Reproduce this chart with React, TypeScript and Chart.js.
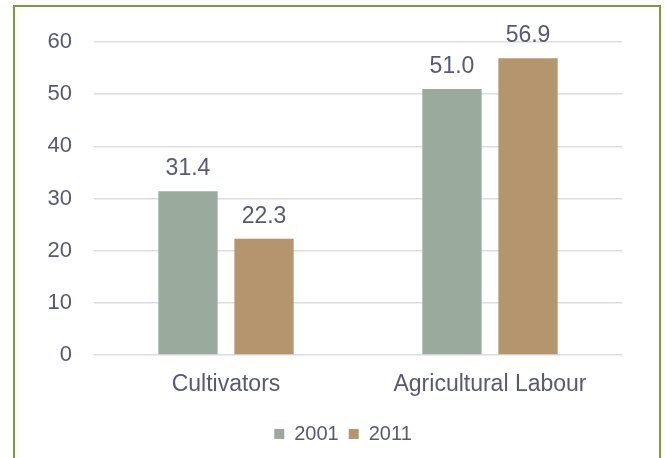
import React, { useEffect, useRef } from "react";
import { Chart, registerables } from "chart.js";

Chart.register(...registerables);

const categories = ["Cultivators", "Agricultural Labour"];
const series2001 = [31.4, 51.0];
const series2011 = [22.3, 56.9];
const seriesNames = ["2001", "2011"];
const yTicks = [0, 10, 20, 30, 40, 50, 60];

const TEXT = "#595975";
const FONT = "'Liberation Sans', Arial, sans-serif";

const valueLabels = {
  id: "valueLabels",
  afterDatasetsDraw(chart: any) {
    const ctx = chart.ctx;
    ctx.save();
    ctx.fillStyle = TEXT;
    ctx.font = `23px ${FONT}`;
    ctx.textAlign = "center";
    ctx.textBaseline = "alphabetic";
    chart.data.datasets.forEach((ds: any, i: number) => {
      const meta = chart.getDatasetMeta(i);
      meta.data.forEach((bar: any, j: number) => {
        ctx.fillText(Number(ds.data[j]).toFixed(1), bar.x, bar.y - 16);
      });
    });
    ctx.restore();
  },
};

const legendShift = {
  id: "legendShift",
  afterLayout(chart: any) {
    if (chart.legend) chart.legend.left += 64;
  },
};

export default function App() {
  const ref = useRef<HTMLCanvasElement>(null);
  useEffect(() => {
    const chart = new Chart(ref.current!, {
      type: "bar",
      data: {
        labels: categories,
        datasets: [
          { label: seriesNames[0], data: series2001, backgroundColor: "#9aab9e", categoryPercentage: 0.576, barPercentage: 0.78 },
          { label: seriesNames[1], data: series2011, backgroundColor: "#b5956d", categoryPercentage: 0.576, barPercentage: 0.78 },
        ],
      },
      options: {
        responsive: false,
        animation: false,
        layout: { padding: { left: 0, right: 44, top: 42, bottom: 4 } },
        plugins: {
          tooltip: { enabled: false },
          legend: {
            position: "bottom",
            labels: {
              boxWidth: 10,
              boxHeight: 10,
              color: TEXT,
              font: { family: FONT, size: 20 },
              padding: 10,
            },
          },
        },
        scales: {
          x: {
            grid: { display: false },
            border: { display: false },
            ticks: { color: TEXT, font: { family: FONT, size: 23 }, padding: 8 },
            afterFit: (s: any) => { s.height = 59; },
          },
          y: {
            min: 0,
            max: 60,
            afterBuildTicks: (s: any) => { s.ticks = yTicks.map((v) => ({ value: v })); },
            grid: { color: "#dcdce4", lineWidth: 1.5, drawTicks: false },
            border: { display: false },
            ticks: { color: TEXT, font: { family: FONT, size: 22 }, padding: 22 },
            afterFit: (s: any) => { s.width = 94; },
          },
        },
      },
      plugins: [valueLabels, legendShift],
    });
    return () => chart.destroy();
  }, []);
  return (
    <div style={{ position: "fixed", left: 0, top: 0, width: 666, height: 458, background: "#fff", overflow: "hidden" }}>
      <canvas ref={ref} width={666} height={458} style={{ position: "absolute", left: 0, top: 0 }} />
      <div
        style={{
          position: "absolute",
          left: 13,
          top: 5,
          width: 648,
          height: 470,
          border: "2px solid #7b9b3c",
          boxSizing: "border-box",
          pointerEvents: "none",
        }}
      />
    </div>
  );
}
